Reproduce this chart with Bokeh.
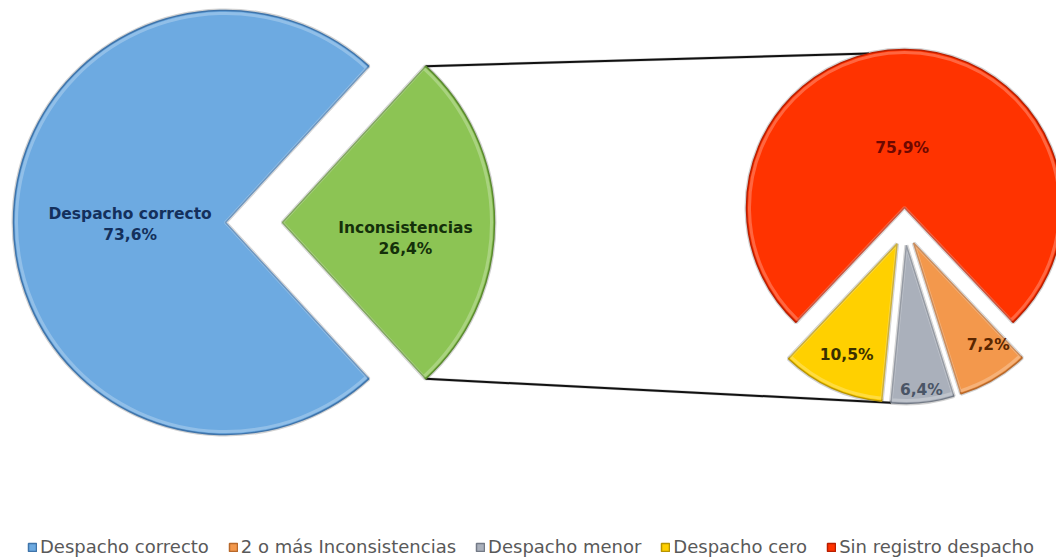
import math
from bokeh.plotting import figure
from bokeh.models import ColumnDataSource, Range1d, Legend, LegendItem
from bokeh.core.properties import value
from bokeh.embed import file_html
from bokeh.resources import INLINE

# ---------------- data ----------------
main_categories = ["Despacho correcto", "Inconsistencias"]
main_values = [73.6, 26.4]

sub_categories = ["Sin registro despacho", "Despacho cero", "Despacho menor", "2 o más Inconsistencias"]
sub_values = [75.9, 10.5, 6.4, 7.2]

legend_categories = ["Despacho correcto", "2 o más Inconsistencias", "Despacho menor",
                     "Despacho cero", "Sin registro despacho"]

# ---------------- style ----------------
main_fill = ["#6DAAE1", "#8CC454"]
main_edge = ["#3F74AA", "#5A8A2E"]
main_text = ["#14305C", "#14300A"]
sub_fill = ["#FF3300", "#FFD000", "#AAB0BB", "#F3984C"]
sub_edge = ["#B81E00", "#B89400", "#737A86", "#B8682A"]
sub_text = ["#6E0800", "#3A3000", "#4A5566", "#5A2600"]

FONT = "DejaVu Sans"
W, H = 1056, 559

# geometry (in pixels of the picture, y measured from the top)
L_CX, L_CY, L_R, L_EXPLODE = 225, H - 222, 212, 57
R_CX, R_CY, R_R = 904, H - 207, 158
GROUP_SHIFT, SUB_EXPLODE = 20, 18


def pct(v):
    return f"{v:.1f}".replace(".", ",") + "%"


# ---------------- main pie ----------------
tot = sum(main_values)
half = math.pi * main_values[1] / tot
m_start = [half, -half]
m_end = [2 * math.pi - half, half]
m_bis = [(s + e) / 2 for s, e in zip(m_start, m_end)]
m_expl = [0, L_EXPLODE]
m_x = [L_CX + e * math.cos(b) for e, b in zip(m_expl, m_bis)]
m_y = [L_CY + e * math.sin(b) for e, b in zip(m_expl, m_bis)]
m_lr = [0.45 * L_R, 0.58 * L_R]
m_dy = [-2, -16]
m_lx = [x + r * math.cos(b) for x, r, b in zip(m_x, m_lr, m_bis)]
m_ly = [y + r * math.sin(b) + d for y, r, b, d in zip(m_y, m_lr, m_bis, m_dy)]
m_lab = [f"{c}\n{pct(v)}" for c, v in zip(main_categories, main_values)]

msrc = ColumnDataSource(dict(x=m_x, y=m_y, s=m_start, e=m_end, fill=main_fill, edge=main_edge,
                             lx=m_lx, ly=m_ly, lab=m_lab, tc=main_text))

# ---------------- secondary pie ----------------
stot = sum(sub_values)
mouth = 2 * math.pi * (1 - sub_values[0] / stot)
s_start = [-math.pi / 2 + mouth / 2]
s_end = [3 * math.pi / 2 - mouth / 2]
a = -math.pi / 2 - mouth / 2
for v in sub_values[1:]:
    s_start.append(a)
    a += 2 * math.pi * v / stot
    s_end.append(a)
s_bis = [(s + e) / 2 for s, e in zip(s_start, s_end)]
s_x, s_y = [], []
for i, b in enumerate(s_bis):
    if i == 0:
        s_x.append(R_CX)
        s_y.append(R_CY)
    else:
        s_x.append(R_CX + SUB_EXPLODE * math.cos(b))
        s_y.append(R_CY - GROUP_SHIFT + SUB_EXPLODE * math.sin(b))
s_lr = [0.38 * R_R, 0.77 * R_R, 0.92 * R_R, 0.80 * R_R]
s_da = [0.04, 0.0, 0.0, 0.10]
s_lx = [x + r * math.cos(b + d) for x, r, b, d in zip(s_x, s_lr, s_bis, s_da)]
s_ly = [y + r * math.sin(b + d) for y, r, b, d in zip(s_y, s_lr, s_bis, s_da)]
s_lab = [pct(v) for v in sub_values]

ssrc = ColumnDataSource(dict(x=s_x, y=s_y, s=s_start, e=s_end, fill=sub_fill, edge=sub_edge,
                             lx=s_lx, ly=s_ly, lab=s_lab, tc=sub_text))

# ---------------- figure ----------------
p = figure(width=W, height=H, x_range=Range1d(0, W), y_range=Range1d(0, H),
           output_backend="svg", toolbar_location=None, min_border=0)
p.axis.visible = False
p.grid.visible = False
p.outline_line_color = None
p.background_fill_color = "white"

# connector lines
g_top = (m_x[1] + L_R * math.cos(m_end[1]), m_y[1] + L_R * math.sin(m_end[1]))
g_bot = (m_x[1] + L_R * math.cos(m_start[1]), m_y[1] + L_R * math.sin(m_start[1]))
ang_top = math.radians(103)
r_top = (R_CX + R_R * math.cos(ang_top), R_CY + R_R * math.sin(ang_top))
r_bot = (s_x[2] + R_R * math.cos(s_start[2]), s_y[2] + R_R * math.sin(s_start[2]))
lsrc = ColumnDataSource(dict(xs=[[g_top[0], r_top[0]], [g_bot[0], r_bot[0]]],
                             ys=[[g_top[1], r_top[1]], [g_bot[1], r_bot[1]]]))

for src, r in ((msrc, L_R), (ssrc, R_R)):
    # soft shadow
    p.wedge(x="x", y="y", radius=r, start_angle="s", end_angle="e", source=src,
            fill_color=None, line_color="black", line_alpha=0.18, line_width=4)
p.multi_line(xs="xs", ys="ys", source=lsrc, line_color="#999999", line_alpha=0.5, line_width=3)
p.multi_line(xs="xs", ys="ys", source=lsrc, line_color="#111111", line_width=2)

main_r = []
for src, r in ((msrc, L_R), (ssrc, R_R)):
    wr = p.wedge(x="x", y="y", radius=r, start_angle="s", end_angle="e", source=src,
                 fill_color="fill", line_color="edge", line_width=1.5)
    main_r.append(wr)
    p.wedge(x="x", y="y", radius=r - 3, start_angle="s", end_angle="e", source=src,
            fill_color=None, line_color="white", line_alpha=0.25, line_width=3)
    p.text(x="lx", y="ly", text="lab", source=src, text_color="tc",
           text_font=value(FONT), text_font_style="bold", text_font_size="15.5px",
           text_align="center", text_baseline="middle", text_line_height=1.2)

# ---------------- legend ----------------
items = []
for cat in legend_categories:
    if cat in main_categories:
        rend, idx = main_r[0], main_categories.index(cat)
    else:
        rend, idx = main_r[1], sub_categories.index(cat)
    items.append(LegendItem(label=cat, renderers=[rend], index=idx))
legend = Legend(items=items, orientation="horizontal", location=(27, 2), spacing=19,
                padding=0, margin=0, glyph_width=10, glyph_height=10, label_standoff=3,
                label_height=20, label_text_font=FONT, label_text_font_size="18px",
                label_text_color="#595959", border_line_color=None, background_fill_alpha=0)
p.add_layout(legend)

open("out.html", "w").write(file_html(p, INLINE))
